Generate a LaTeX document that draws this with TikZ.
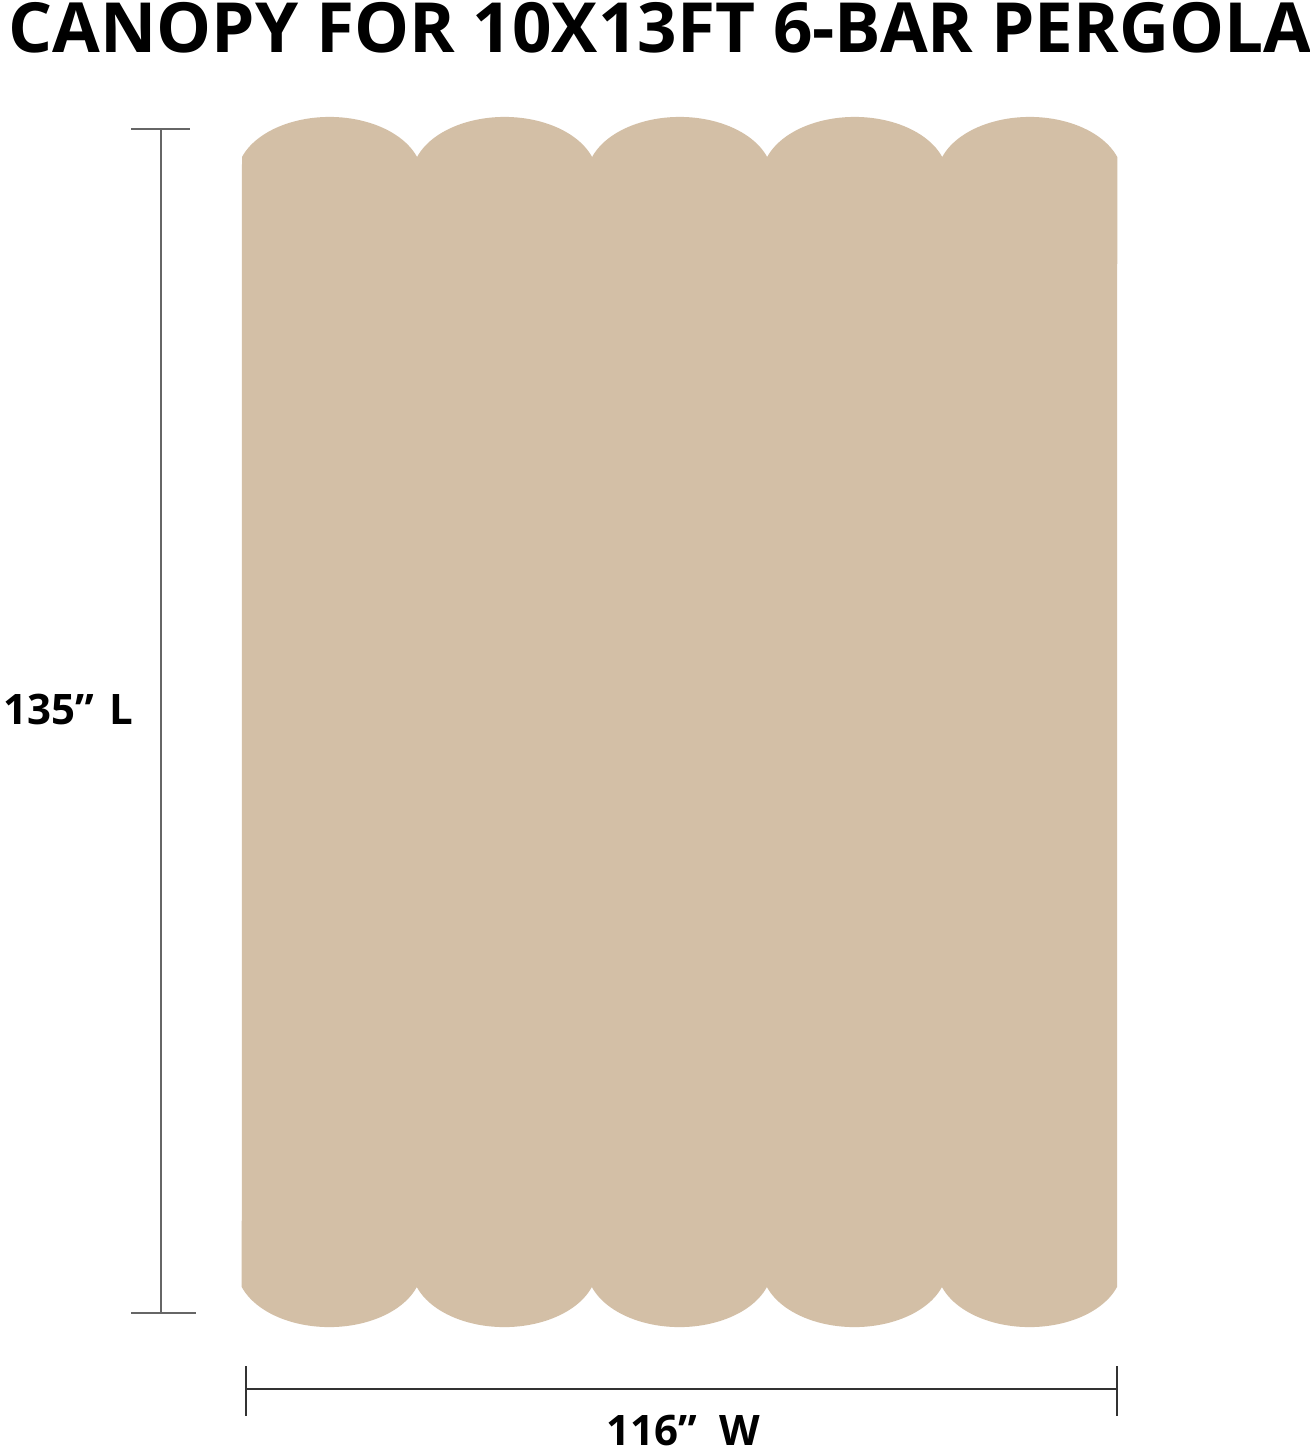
\documentclass[tikz,border=0pt]{standalone}
\usepackage{fontspec}
\setmainfont{Open Sans}
\definecolor{canopy}{HTML}{D3BFA6}
\definecolor{dimgray}{HTML}{666666}
\definecolor{dimdark}{HTML}{333333}
\begin{document}
\begin{tikzpicture}[x=0.5pt,y=0.5pt,
  titletext/.style={font=\fontsize{34.6}{40}\selectfont\bfseries,inner sep=0pt,anchor=base west},
  dimtext/.style={font=\fontsize{21}{25}\selectfont\bfseries,inner sep=0pt,anchor=base west},
  dimline/.style={line width=1pt,draw=dimgray},
  dimlineb/.style={line width=1pt,draw=dimdark}]
\useasboundingbox (0,0) rectangle (1310,-1453);
\fill[white] (0,0) rectangle (1310,-1453);
% canopy
\fill[canopy] (242,-157)
  arc[start angle=160.6,end angle=19.4,x radius=92.8,y radius=60]
  arc[start angle=160.6,end angle=19.4,x radius=92.8,y radius=60]
  arc[start angle=160.6,end angle=19.4,x radius=92.8,y radius=60]
  arc[start angle=160.6,end angle=19.4,x radius=92.8,y radius=60]
  arc[start angle=160.6,end angle=19.4,x radius=92.8,y radius=60]
  -- (1117,-1287)
  arc[start angle=-19.4,end angle=-160.6,x radius=92.8,y radius=60]
  arc[start angle=-19.4,end angle=-160.6,x radius=92.8,y radius=60]
  arc[start angle=-19.4,end angle=-160.6,x radius=92.8,y radius=60]
  arc[start angle=-19.4,end angle=-160.6,x radius=92.8,y radius=60]
  arc[start angle=-19.4,end angle=-160.6,x radius=92.8,y radius=60]
  -- cycle;
% title
\node[titletext] (title) at (8,-52) {CANOPY FOR 10X13FT 6-BAR PERGOLA};
% vertical dimension
\coordinate (vtop) at (161,-129);
\coordinate (vbot) at (161,-1313);
\coordinate (vtl) at (131,-129);
\coordinate (vtr) at (190,-129);
\coordinate (vbl) at (131,-1313);
\coordinate (vbr) at (196,-1313);
\draw[dimline] (vtop) -- (vbot);
\draw[dimline] (vtl) -- (vtr);
\draw[dimline] (vbl) -- (vbr);
\node[dimtext] (lenlabel) at (3,-724) {135”\hspace{8pt}L};
% horizontal dimension
\coordinate (hl) at (246,-1389);
\coordinate (hr) at (1117,-1389);
\coordinate (hlt) at (246,-1366);
\coordinate (hlb) at (246,-1416);
\coordinate (hrt) at (1117,-1366);
\coordinate (hrb) at (1117,-1416);
\draw[dimlineb] (hl) -- (hr);
\draw[dimlineb] (hlt) -- (hlb);
\draw[dimlineb] (hrt) -- (hrb);
\node[dimtext] (widlabel) at (606,-1445) {116”\hspace{11pt}W};
\end{tikzpicture}
\end{document}
